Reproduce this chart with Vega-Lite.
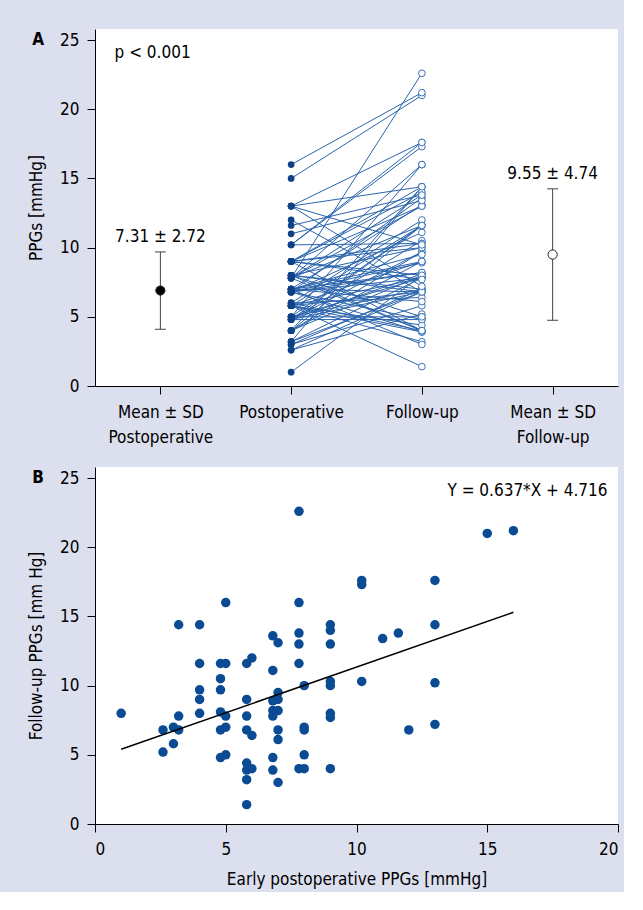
{
  "$schema": "https://vega.github.io/schema/vega-lite/v6.json",
  "background": "#dcdfee",
  "padding": {"left": 27, "top": 29, "right": 5, "bottom": 5},
  "spacing": 22,
  "config": {
    "font": "'DejaVu Sans Condensed', 'Liberation Sans Narrow', Roboto, sans-serif",
    "view": {"fill": "white", "stroke": null},
    "axis": {
      "domainColor": "black", "tickColor": "black", "labelColor": "black", "titleColor": "black",
      "labelFontSize": 17, "titleFontSize": 17, "titleFontWeight": "normal", "tickSize": 8, "grid": false,
      "labelFont": "'DejaVu Sans Condensed', 'Liberation Sans Narrow', Roboto, sans-serif",
      "titleFont": "'DejaVu Sans Condensed', 'Liberation Sans Narrow', Roboto, sans-serif"
    },
    "text": {"font": "'DejaVu Sans Condensed', 'Liberation Sans Narrow', Roboto, sans-serif", "fontSize": 17, "color": "black"}
  },
  "datasets": {
    "pairs": [
      {"post": 1, "fu": 8}, {"post": 2.6, "fu": 6.8}, {"post": 2.6, "fu": 5.2}, {"post": 3, "fu": 7}, {"post": 3, "fu": 5.8},
      {"post": 3.2, "fu": 7.8}, {"post": 3.2, "fu": 6.8}, {"post": 3.2, "fu": 14.4}, {"post": 4, "fu": 14.4}, {"post": 4, "fu": 11.6},
      {"post": 4, "fu": 9.7}, {"post": 4, "fu": 9}, {"post": 4, "fu": 8}, {"post": 4.8, "fu": 11.6}, {"post": 5, "fu": 11.6},
      {"post": 4.8, "fu": 10.5}, {"post": 4.8, "fu": 9.7}, {"post": 4.8, "fu": 8.1}, {"post": 5, "fu": 7.8}, {"post": 4.8, "fu": 6.8},
      {"post": 5, "fu": 7}, {"post": 4.8, "fu": 4.8}, {"post": 5, "fu": 5}, {"post": 5, "fu": 16}, {"post": 5.8, "fu": 11.6},
      {"post": 6, "fu": 12}, {"post": 5.8, "fu": 9}, {"post": 5.8, "fu": 7.8}, {"post": 5.8, "fu": 6.8}, {"post": 6, "fu": 6.4},
      {"post": 5.8, "fu": 4.4}, {"post": 5.8, "fu": 3.9}, {"post": 6, "fu": 4}, {"post": 5.8, "fu": 3.2}, {"post": 5.8, "fu": 1.4},
      {"post": 6.8, "fu": 13.6}, {"post": 7, "fu": 13.1}, {"post": 6.8, "fu": 11.1}, {"post": 7, "fu": 9.5}, {"post": 6.8, "fu": 8.9},
      {"post": 7, "fu": 9}, {"post": 6.8, "fu": 8.2}, {"post": 7, "fu": 8.2}, {"post": 6.8, "fu": 7.8}, {"post": 7, "fu": 6.8},
      {"post": 7, "fu": 6.1}, {"post": 6.8, "fu": 4.8}, {"post": 6.8, "fu": 3.9}, {"post": 7, "fu": 3}, {"post": 7.8, "fu": 22.6},
      {"post": 7.8, "fu": 16}, {"post": 7.8, "fu": 13.8}, {"post": 7.8, "fu": 13}, {"post": 7.8, "fu": 11.6}, {"post": 8, "fu": 10},
      {"post": 8, "fu": 7}, {"post": 8, "fu": 6.8}, {"post": 8, "fu": 5}, {"post": 7.8, "fu": 4}, {"post": 8, "fu": 4},
      {"post": 9, "fu": 14.4}, {"post": 9, "fu": 14}, {"post": 9, "fu": 13}, {"post": 9, "fu": 10.3}, {"post": 9, "fu": 10},
      {"post": 9, "fu": 8}, {"post": 9, "fu": 7.7}, {"post": 9, "fu": 4}, {"post": 10.2, "fu": 17.6}, {"post": 10.2, "fu": 17.3},
      {"post": 10.2, "fu": 10.3}, {"post": 11, "fu": 13.4}, {"post": 11.6, "fu": 13.8}, {"post": 12, "fu": 6.8}, {"post": 13, "fu": 17.6},
      {"post": 13, "fu": 14.4}, {"post": 13, "fu": 10.2}, {"post": 13, "fu": 7.2}, {"post": 15, "fu": 21}, {"post": 16, "fu": 21.2}
    ],
    "means": [
      {"pos": 0, "grp": "post", "mean": 6.9, "lo": 4.1, "hi": 9.69, "label": "7.31 ± 2.72"},
      {"pos": 3, "grp": "fu", "mean": 9.5, "lo": 4.75, "hi": 14.25, "label": "9.55 ± 4.74"}
    ],
    "fit": [{"x": 1, "y": 5.4}, {"x": 16, "y": 15.3}]
  },
  "vconcat": [
    {
      "width": 523,
      "height": 357,
      "layer": [
        {
          "data": {"name": "pairs"},
          "mark": {"type": "rule", "color": "#2a64ad", "strokeWidth": 1},
          "encoding": {
            "x": {"datum": 1, "type": "quantitative", "scale": {"domain": [-0.5, 3.5], "nice": false, "zero": false},
              "axis": {"values": [0, 1, 2, 3], "title": null, "labelLineHeight": 25, "labelPadding": 10,
                "labelExpr": "datum.value == 0 ? ['Mean ± SD', 'Postoperative'] : datum.value == 1 ? 'Postoperative' : datum.value == 2 ? 'Follow-up' : ['Mean ± SD', 'Follow-up']"}},
            "x2": {"datum": 2},
            "y": {"field": "post", "type": "quantitative", "scale": {"domain": [0, 25.8], "nice": false},
              "axis": {"values": [0, 5, 10, 15, 20, 25], "title": "PPGs [mmHg]", "titlePadding": 14, "labelPadding": 8}},
            "y2": {"field": "fu"}
          }
        },
        {
          "data": {"name": "pairs"},
          "mark": {"type": "circle", "color": "#0d4286", "size": 45, "opacity": 1},
          "encoding": {
            "x": {"datum": 1, "type": "quantitative"},
            "y": {"field": "post", "type": "quantitative"}
          }
        },
        {
          "data": {"name": "pairs"},
          "mark": {"type": "circle", "fill": "white", "stroke": "#3b72b8", "strokeWidth": 1, "size": 45, "opacity": 1},
          "encoding": {
            "x": {"datum": 2, "type": "quantitative"},
            "y": {"field": "fu", "type": "quantitative"}
          }
        },
        {
          "data": {"name": "means"},
          "mark": {"type": "rule", "color": "#444444", "strokeWidth": 1},
          "encoding": {
            "x": {"field": "pos", "type": "quantitative"},
            "y": {"field": "lo", "type": "quantitative"},
            "y2": {"field": "hi"}
          }
        },
        {
          "data": {"name": "means"},
          "mark": {"type": "tick", "orient": "horizontal", "size": 11, "thickness": 1, "color": "#444444", "opacity": 1},
          "encoding": {
            "x": {"field": "pos", "type": "quantitative"},
            "y": {"field": "lo", "type": "quantitative"}
          }
        },
        {
          "data": {"name": "means"},
          "mark": {"type": "tick", "orient": "horizontal", "size": 11, "thickness": 1, "color": "#444444", "opacity": 1},
          "encoding": {
            "x": {"field": "pos", "type": "quantitative"},
            "y": {"field": "hi", "type": "quantitative"}
          }
        },
        {
          "data": {"name": "means"},
          "mark": {"type": "point", "filled": false, "stroke": "#222222", "strokeWidth": 1, "size": 85, "opacity": 1, "shape": "circle"},
          "encoding": {
            "x": {"field": "pos", "type": "quantitative"},
            "y": {"field": "mean", "type": "quantitative"},
            "fill": {"field": "grp", "type": "nominal", "scale": {"domain": ["post", "fu"], "range": ["black", "white"]}, "legend": null}
          }
        },
        {
          "data": {"name": "means"},
          "mark": {"type": "text", "baseline": "middle", "align": "center", "dy": -15},
          "encoding": {
            "x": {"field": "pos", "type": "quantitative"},
            "y": {"field": "hi", "type": "quantitative"},
            "text": {"field": "label"}
          }
        },
        {
          "data": {"values": [{"t": "p < 0.001"}]},
          "mark": {"type": "text", "align": "left", "baseline": "middle"},
          "encoding": {
            "x": {"datum": -0.35, "type": "quantitative"},
            "y": {"datum": 24.1, "type": "quantitative"},
            "text": {"field": "t"}
          }
        },
        {
          "data": {"values": [{"t": "A"}]},
          "mark": {"type": "text", "align": "center", "baseline": "middle", "fontWeight": "bold"},
          "encoding": {
            "x": {"datum": -0.935, "type": "quantitative"},
            "y": {"datum": 25, "type": "quantitative"},
            "text": {"field": "t"}
          }
        }
      ]
    },
    {
      "width": 523,
      "height": 357,
      "layer": [
        {
          "data": {"name": "pairs"},
          "mark": {"type": "circle", "color": "#0a4b94", "size": 90, "opacity": 1},
          "encoding": {
            "x": {"field": "post", "type": "quantitative", "scale": {"domain": [0, 20], "nice": false},
              "axis": {"values": [0, 5, 10, 15, 20], "title": "Early postoperative PPGs [mmHg]", "labelPadding": 9, "titlePadding": 14}},
            "y": {"field": "fu", "type": "quantitative", "scale": {"domain": [0, 25.8], "nice": false},
              "axis": {"values": [0, 5, 10, 15, 20, 25], "title": "Follow-up PPGs [mm Hg]", "titlePadding": 14, "labelPadding": 8}}
          }
        },
        {
          "data": {"name": "fit"},
          "mark": {"type": "line", "color": "black", "strokeWidth": 1.5},
          "encoding": {
            "x": {"field": "x", "type": "quantitative"},
            "y": {"field": "y", "type": "quantitative"}
          }
        },
        {
          "data": {"values": [{"t": "Y = 0.637*X + 4.716"}]},
          "mark": {"type": "text", "align": "right", "baseline": "middle"},
          "encoding": {
            "x": {"datum": 19.6, "type": "quantitative"},
            "y": {"datum": 24.1, "type": "quantitative"},
            "text": {"field": "t"}
          }
        },
        {
          "data": {"values": [{"t": "B"}]},
          "mark": {"type": "text", "align": "center", "baseline": "middle", "fontWeight": "bold"},
          "encoding": {
            "x": {"datum": -2.18, "type": "quantitative"},
            "y": {"datum": 25, "type": "quantitative"},
            "text": {"field": "t"}
          }
        }
      ]
    }
  ]
}
